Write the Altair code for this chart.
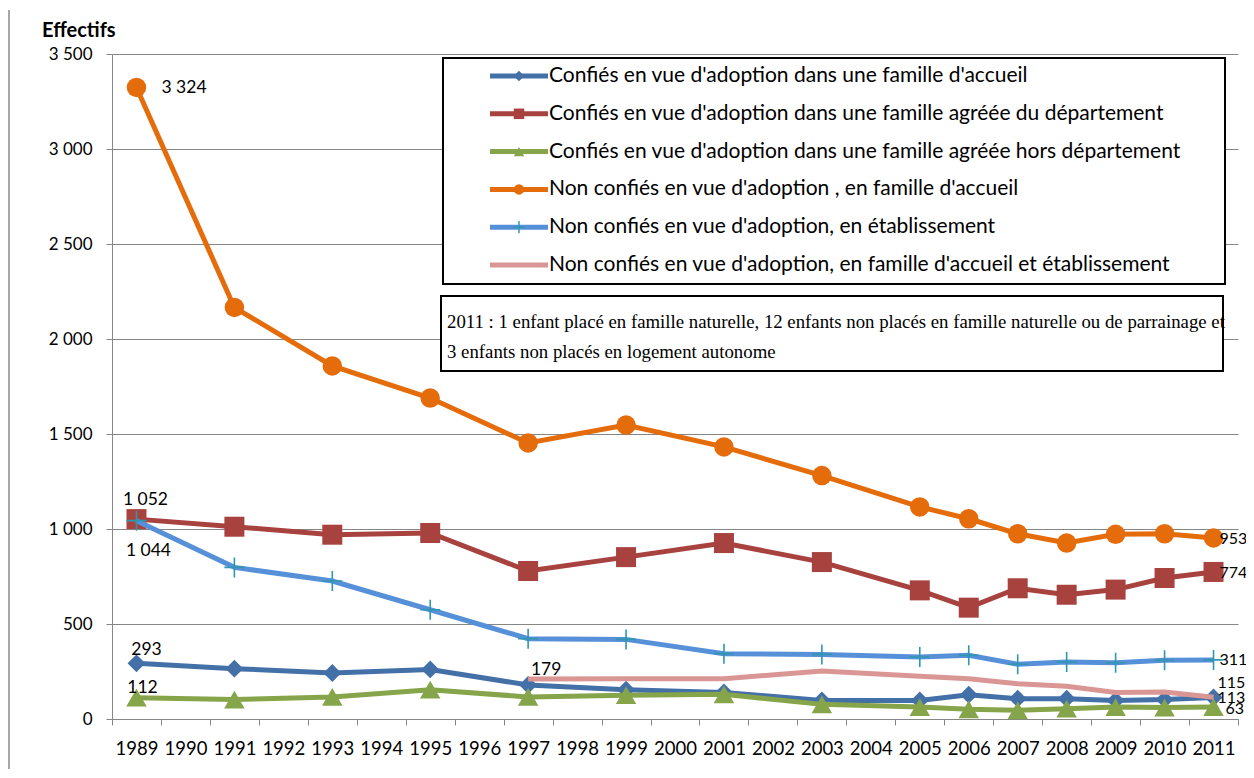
import altair as alt
import pandas as pd

# ---------------- data ----------------
YEARS_AXIS = [str(y) for y in range(1989, 2012)]
YEARS_OBS = ["1989", "1991", "1993", "1995", "1997", "1999", "2001", "2003",
             "2005", "2006", "2007", "2008", "2009", "2010", "2011"]
YEARS_PINK = ["1997", "1999", "2001", "2003", "2005", "2006", "2007", "2008",
              "2009", "2010", "2011"]

S1 = "Confiés en vue d'adoption dans une famille d'accueil"
S2 = "Confiés en vue d'adoption dans une famille agréée du département"
S3 = "Confiés en vue d'adoption dans une famille agréée hors département"
S4 = "Non confiés en vue d'adoption , en famille d'accueil"
S5 = "Non confiés en vue d'adoption, en établissement"
S6 = "Non confiés en vue d'adoption, en famille d'accueil et établissement"

v_s1 = [293, 265, 242, 261, 179, 154, 140, 98, 98, 128, 107, 107, 98, 102, 113]
v_s2 = [1052, 1012, 970, 979, 779, 852, 926, 826, 677, 586, 688, 654, 681, 742, 774]
v_s3 = [112, 102, 116, 154, 116, 125, 130, 77, 63, 51, 46, 54, 63, 60, 63]
v_s4 = [3324, 2166, 1858, 1689, 1453, 1547, 1432, 1281, 1116, 1054, 975, 926, 972, 975, 953]
v_s5 = [1044, 798, 726, 575, 423, 419, 344, 340, 326, 335, 288, 300, 296, 309, 311]
v_s6 = [210, 212, 212, 253, 225, 212, 186, 172, 139, 142, 115]

NOTE_1 = ("2011 : 1 enfant placé en famille naturelle, 12 enfants non placés "
          "en famille naturelle ou de parrainage et")
NOTE_2 = "3 enfants non placés en logement autonome"
Y_TICKS = [0, 500, 1000, 1500, 2000, 2500, 3000, 3500]

series = [
    (S1, YEARS_OBS, v_s1),
    (S2, YEARS_OBS, v_s2),
    (S3, YEARS_OBS, v_s3),
    (S4, YEARS_OBS, v_s4),
    (S5, YEARS_OBS, v_s5),
    (S6, YEARS_PINK, v_s6),
]

# labelled points: (series, year, dx, dy, align, fontsize)
LABELS = [
    (S4, "1989", 25, 1, "left", 17.5),
    (S2, "1989", 9, -19, "center", 17.5),
    (S5, "1989", 12, 30, "center", 17.5),
    (S1, "1989", 10, -13, "center", 17.5),
    (S3, "1989", 6, -10, "center", 17.5),
    (S1, "1997", 18, -15, "center", 17.5),
    (S4, "2011", 6, 1, "left", 16),
    (S2, "2011", 6, 1, "left", 16),
    (S5, "2011", 6, 0, "left", 16),
    (S6, "2011", 4, -14, "left", 16),
    (S1, "2011", 4, 0, "left", 16),
    (S3, "2011", 12, 2, "left", 16),
]

# ---------------- styles ----------------
FONT = "Lato"
GRID = "#868686"
CROSS = "M-1,0L1,0M0,-1L0,1"
STYLE = {
    S1: dict(color="#4470A8", shape="diamond", mcolor="#4470A8", size=320, filled=True),
    S2: dict(color="#A8423F", shape="square", mcolor="#A8423F", size=400, filled=True),
    S3: dict(color="#86A44A", shape="triangle-up", mcolor="#86A44A", size=420, filled=True),
    S4: dict(color="#E46C0A", shape="circle", mcolor="#E46C0A", size=380, filled=True),
    S5: dict(color="#5690D8", shape=CROSS, mcolor="#2E96B0", size=400, filled=False),
    S6: dict(color="#DA9694", shape=None, mcolor=None, size=0, filled=True),
}

W, H = 1126, 665

x_enc = alt.X(
    "year:O",
    scale=alt.Scale(type="band", domain=YEARS_AXIS, paddingInner=0, paddingOuter=0),
    bandPosition=0.5,
    axis=alt.Axis(title=None, labelAngle=0, grid=False, tickBand="extent",
                  domainColor=GRID, tickColor=GRID, tickSize=6,
                  labelFont=FONT, labelFontSize=18.5, labelColor="black",
                  labelPadding=14),
)
y_enc = alt.Y(
    "value:Q",
    scale=alt.Scale(domain=[0, 3500], nice=False),
    axis=alt.Axis(title=None, values=Y_TICKS, grid=True, gridColor=GRID,
                  domainColor=GRID, tickColor=GRID, tickSize=6,
                  labelFont=FONT, labelFontSize=17, labelColor="black",
                  labelPadding=14,
                  labelExpr="replace(format(datum.value, ','), ',', ' ')"),
)

layers = []
for name, yrs, vals in series:
    st = STYLE[name]
    df = pd.DataFrame({"year": yrs, "value": vals, "series": name})
    base = alt.Chart(df)
    layers.append(base.mark_line(color=st["color"], strokeWidth=5).encode(x=x_enc, y=y_enc))
    if st["shape"]:
        if st["filled"]:
            pt = base.mark_point(shape=st["shape"], size=st["size"], filled=True,
                                 color=st["mcolor"], opacity=1)
        else:
            pt = base.mark_point(shape=st["shape"], size=st["size"], filled=False,
                                 stroke=st["mcolor"], strokeWidth=1.6, opacity=1)
        layers.append(pt.encode(x=x_enc, y=y_enc))


def fmt(v):
    return f"{v:,}".replace(",", " ")


lookup = {name: dict(zip(yrs, vals)) for name, yrs, vals in series}
for name, yr, dx, dy, align, fs in LABELS:
    val = lookup[name][yr]
    df = pd.DataFrame({"year": [yr], "value": [val], "txt": [fmt(val)]})
    layers.append(
        alt.Chart(df).mark_text(dx=dx, dy=dy, align=align, baseline="middle",
                                font=FONT, fontSize=fs, color="black")
        .encode(x=x_enc, y=y_enc, text="txt:N")
    )

one = pd.DataFrame({"k": [0]})

# left chart border
layers.append(alt.Chart(one).mark_rule(color="#A6A6A6", strokeWidth=2).encode(
    x=alt.value(-103), y=alt.value(-44), y2=alt.value(H + 70)))

# title
layers.append(alt.Chart(pd.DataFrame({"t": ["Effectifs"]})).mark_text(
    align="left", baseline="middle", font=FONT, fontSize=20, fontWeight="bold",
    color="black").encode(x=alt.value(-70), y=alt.value(-23), text="t:N"))

# legend box
layers.append(alt.Chart(one).mark_rect(fill="white", stroke="black", strokeWidth=2).encode(
    x=alt.value(331), x2=alt.value(1113), y=alt.value(4), y2=alt.value(230)))
ROW0, ROWSTEP = 22, 37.8
for i, (name, yrs, vals) in enumerate(series):
    st = STYLE[name]
    ry = ROW0 + i * ROWSTEP
    layers.append(alt.Chart(one).mark_rule(color=st["color"], strokeWidth=5).encode(
        x=alt.value(378), x2=alt.value(436), y=alt.value(ry)))
    if st["shape"]:
        if st["filled"]:
            m = alt.Chart(one).mark_point(shape=st["shape"], size=110, filled=True,
                                          color=st["mcolor"], opacity=1)
        else:
            m = alt.Chart(one).mark_point(shape=st["shape"], size=150, filled=False,
                                          stroke=st["mcolor"], strokeWidth=1.4, opacity=1)
        layers.append(m.encode(x=alt.value(407), y=alt.value(ry)))
    layers.append(alt.Chart(pd.DataFrame({"t": [name]})).mark_text(
        align="left", baseline="middle", font=FONT, fontSize=21, color="black").encode(
        x=alt.value(437), y=alt.value(ry), text="t:N"))

# note box
layers.append(alt.Chart(one).mark_rect(fill="white", stroke="black", strokeWidth=2).encode(
    x=alt.value(329), x2=alt.value(1111), y=alt.value(242), y2=alt.value(317)))
for txt, ty in [(NOTE_1, 268), (NOTE_2, 298)]:
    layers.append(alt.Chart(pd.DataFrame({"t": [txt]})).mark_text(
        align="left", baseline="middle", font="Liberation Serif", fontSize=18.8,
        color="black").encode(x=alt.value(335), y=alt.value(ty), text="t:N"))

chart = alt.layer(*layers).properties(
    width=W, height=H,
    autosize=alt.AutoSizeParams(type="none"),
    padding={"left": 104, "top": 46, "right": 8, "bottom": 50},
    background="white",
).configure_view(strokeWidth=0)

chart.save("out.html", embed_options={"renderer": "svg", "actions": False})
